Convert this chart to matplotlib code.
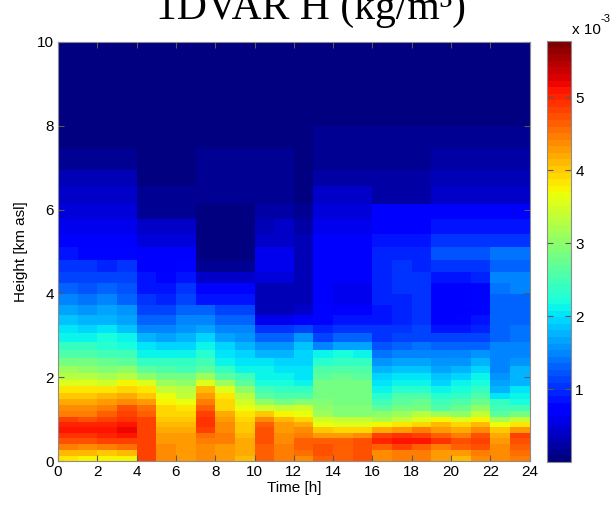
import numpy as np
import matplotlib.pyplot as plt

plt.rcParams['font.family'] = ['Liberation Sans', 'DejaVu Sans']

# cell edges
time_edges = list(range(25))  # hours 0..24, one column per hour
height_edges = [0, 0.13, 0.27, 0.41, 0.54, 0.67, 0.80, 0.93, 1.06, 1.20, 1.34, 1.48,
                1.63, 1.78, 1.93, 2.09, 2.27, 2.45, 2.65, 2.85, 3.05, 3.25, 3.48, 3.72,
                3.98, 4.24, 4.50, 4.80, 5.11, 5.41, 5.77, 6.13, 6.57, 6.95, 7.48, 8.0, 10.0]

# absolute humidity, units of 1e-3 kg/m3, rows bottom -> top, 24 hourly columns
h_low = [
    [3.8, 3.75, 3.7, 3.7, 4.8, 4.4, 4.3, 4.4, 4.25, 4.1, 4.6, 4.45, 4.4, 4.6, 4.6, 4.7, 4.4, 4.45, 4.45, 4.3, 4.1, 4.35, 4.4, 4.5],
    [4.1, 4.1, 4.0, 4.1, 4.8, 4.4, 4.3, 4.4, 4.3, 4.15, 4.6, 4.5, 4.55, 4.7, 4.65, 4.7, 4.4, 4.5, 4.5, 4.3, 4.3, 4.45, 4.4, 4.55],
    [4.45, 4.4, 4.5, 4.55, 4.8, 4.35, 4.3, 4.4, 4.3, 4.15, 4.6, 4.5, 4.6, 4.7, 4.65, 4.7, 4.6, 4.8, 4.6, 4.5, 4.6, 4.7, 4.35, 4.6],
    [4.7, 4.75, 4.8, 4.85, 4.8, 4.3, 4.3, 4.5, 4.45, 4.15, 4.7, 4.35, 4.6, 4.6, 4.6, 4.7, 5.0, 5.05, 5.05, 4.9, 4.75, 4.85, 4.3, 4.75],
    [4.95, 4.95, 5.0, 5.05, 4.8, 4.25, 4.25, 4.55, 4.45, 4.1, 4.7, 4.35, 4.5, 4.3, 4.3, 4.35, 4.8, 4.95, 4.8, 4.6, 4.5, 4.7, 4.15, 4.8],
    [5.05, 5.05, 5.05, 5.15, 4.8, 4.2, 4.2, 4.85, 4.4, 4.05, 4.7, 4.3, 4.35, 4.0, 3.95, 3.95, 4.15, 4.3, 4.5, 4.3, 4.2, 4.35, 4.0, 4.3],
    [5.0, 5.0, 5.0, 5.1, 4.8, 4.1, 4.1, 4.9, 4.4, 4.0, 4.6, 4.25, 4.2, 3.65, 3.6, 3.6, 3.7, 3.8, 3.9, 4.1, 3.95, 4.1, 3.65, 3.8],
    [4.8, 4.75, 4.8, 4.95, 4.8, 4.0, 4.0, 4.95, 4.3, 3.95, 4.4, 4.1, 3.95, 3.45, 3.4, 3.4, 3.2, 3.4, 3.6, 3.75, 3.6, 3.75, 3.2, 3.4],
    [4.5, 4.5, 4.6, 4.8, 4.65, 3.95, 3.95, 4.8, 4.15, 3.8, 4.0, 3.7, 3.65, 3.15, 2.9, 2.9, 3.0, 3.1, 3.25, 3.1, 3.05, 3.35, 2.7, 2.8],
    [4.35, 4.35, 4.5, 4.7, 4.55, 3.9, 3.8, 4.6, 3.95, 3.65, 3.45, 3.4, 3.45, 3.0, 2.9, 2.9, 2.7, 2.85, 2.85, 2.6, 2.75, 3.0, 2.5, 2.5],
    [4.15, 4.15, 4.25, 4.4, 4.3, 3.75, 3.65, 4.5, 3.95, 3.45, 3.0, 2.85, 2.95, 2.9, 2.85, 2.85, 2.5, 2.7, 2.75, 2.5, 2.55, 2.75, 2.35, 2.25],
    [4.0, 4.0, 4.1, 4.2, 4.0, 3.65, 3.4, 4.25, 3.8, 3.3, 2.65, 2.55, 2.6, 2.85, 2.85, 2.85, 2.3, 2.55, 2.6, 2.3, 2.35, 2.55, 2.0, 2.1],
    [3.8, 3.8, 3.85, 3.95, 3.8, 3.35, 3.25, 4.1, 3.6, 3.0, 2.45, 2.35, 2.35, 2.85, 2.85, 2.85, 2.15, 2.3, 2.3, 2.15, 2.2, 2.4, 1.75, 2.0],
    [3.6, 3.55, 3.5, 3.7, 3.6, 3.1, 3.0, 3.6, 3.1, 2.7, 2.25, 2.25, 2.1, 2.85, 2.85, 2.8, 2.0, 2.15, 2.1, 1.95, 2.1, 2.25, 1.65, 1.8],
]
h_mid = [
    [3.3, 3.25, 3.2, 3.25, 3.0, 2.8, 2.85, 3.1, 2.7, 2.5, 2.15, 2.15, 2.05, 2.65, 2.75, 2.7, 1.9, 2.05, 2.05, 1.85, 1.95, 2.15, 1.6, 1.8],
    [3.1, 3.05, 2.95, 3.0, 2.65, 2.55, 2.5, 2.7, 2.35, 2.15, 2.1, 2.05, 2.0, 2.55, 2.6, 2.55, 1.73, 1.85, 1.87, 1.7, 1.75, 1.95, 1.5, 1.75],
    [2.85, 2.8, 2.75, 2.7, 2.4, 2.35, 2.35, 2.5, 2.15, 2.05, 2.0, 1.95, 1.95, 2.3, 2.4, 2.35, 1.59, 1.65, 1.65, 1.55, 1.6, 1.75, 1.5, 1.6],
    [2.6, 2.55, 2.5, 2.45, 2.15, 2.15, 2.1, 2.3, 2.05, 1.9, 1.8, 1.8, 1.9, 2.1, 2.2, 2.15, 1.44, 1.5, 1.5, 1.45, 1.45, 1.55, 1.45, 1.5],
    [2.4, 2.35, 2.3, 2.25, 2.0, 1.95, 1.9, 2.1, 1.9, 1.75, 1.6, 1.6, 1.85, 1.5, 1.7, 1.65, 1.22, 1.35, 1.37, 1.3, 1.3, 1.3, 1.45, 1.45],
    [2.15, 2.1, 2.2, 2.1, 1.8, 1.7, 1.75, 1.9, 1.7, 1.6, 1.35, 1.35, 1.55, 1.1, 1.3, 1.3, 1.0, 1.15, 1.15, 1.15, 1.1, 1.1, 1.35, 1.4],
    [2.0, 1.9, 2.0, 1.85, 1.5, 1.45, 1.6, 1.65, 1.5, 1.45, 1.05, 1.05, 1.1, 0.95, 1.05, 1.05, 1.0, 1.05, 1.15, 0.85, 0.9, 0.95, 1.3, 1.4],
    [1.85, 1.75, 1.8, 1.7, 1.35, 1.3, 1.45, 1.45, 1.35, 1.3, 0.6, 0.6, 0.72, 0.8, 0.85, 0.85, 0.86, 0.95, 1.08, 0.72, 0.75, 0.85, 1.3, 1.35],
    [1.7, 1.6, 1.65, 1.55, 1.15, 1.1, 1.3, 1.3, 1.15, 1.15, 0.35, 0.35, 0.45, 0.75, 0.65, 0.65, 0.86, 0.95, 1.08, 0.72, 0.72, 0.8, 1.3, 1.3],
    [1.45, 1.4, 1.45, 1.35, 1.0, 0.95, 1.15, 0.85, 0.85, 0.85, 0.35, 0.35, 0.33, 0.72, 0.6, 0.6, 0.93, 0.95, 1.08, 0.72, 0.72, 0.8, 1.3, 1.3],
    [1.3, 1.25, 1.3, 1.2, 0.9, 0.9, 1.0, 0.75, 0.75, 0.75, 0.3, 0.3, 0.33, 0.72, 0.6, 0.6, 0.93, 1.0, 1.08, 0.72, 0.72, 0.8, 1.4, 1.45],
    [1.15, 1.15, 1.15, 1.1, 0.85, 0.8, 0.9, 0.43, 0.43, 0.43, 0.5, 0.5, 0.35, 0.72, 0.65, 0.65, 0.93, 1.0, 1.0, 0.86, 0.86, 0.95, 1.45, 1.5],
    [1.0, 1.0, 0.95, 1.0, 0.72, 0.72, 0.8, 0.12, 0.12, 0.15, 0.6, 0.6, 0.35, 0.7, 0.68, 0.68, 0.93, 1.0, 0.93, 1.05, 1.0, 1.05, 1.3, 1.35],
]
h_high = [
    [0.86, 0.8, 0.8, 0.8, 0.65, 0.65, 0.65, 0.07, 0.07, 0.07, 0.55, 0.55, 0.36, 0.68, 0.68, 0.68, 0.93, 0.93, 0.93, 1.2, 1.2, 1.2, 1.4, 1.4],
    [0.72, 0.72, 0.65, 0.65, 0.5, 0.5, 0.5, 0.07, 0.07, 0.07, 0.43, 0.43, 0.29, 0.65, 0.65, 0.65, 0.86, 0.86, 0.86, 1.0, 1.0, 1.0, 1.0, 1.0],
    [0.6, 0.6, 0.6, 0.6, 0.4, 0.4, 0.4, 0.07, 0.07, 0.07, 0.29, 0.4, 0.22, 0.6, 0.6, 0.6, 0.72, 0.72, 0.72, 0.86, 0.86, 0.86, 0.86, 0.86],
    [0.5, 0.5, 0.5, 0.5, 0.17, 0.17, 0.17, 0.07, 0.07, 0.07, 0.26, 0.26, 0.14, 0.5, 0.5, 0.5, 0.65, 0.72, 0.72, 0.65, 0.65, 0.65, 0.65, 0.65],
    [0.4, 0.4, 0.4, 0.4, 0.14, 0.14, 0.14, 0.14, 0.14, 0.14, 0.17, 0.17, 0.07, 0.42, 0.42, 0.42, 0.22, 0.22, 0.22, 0.4, 0.4, 0.4, 0.4, 0.4],
    [0.29, 0.29, 0.29, 0.29, 0.03, 0.03, 0.03, 0.14, 0.14, 0.14, 0.17, 0.17, 0.07, 0.22, 0.22, 0.22, 0.22, 0.22, 0.22, 0.32, 0.32, 0.32, 0.32, 0.32],
    [0.17, 0.17, 0.17, 0.17, 0.03, 0.03, 0.03, 0.14, 0.14, 0.14, 0.17, 0.17, 0.07, 0.12, 0.12, 0.12, 0.12, 0.12, 0.12, 0.22, 0.22, 0.22, 0.22, 0.22],
    [0.07, 0.07, 0.07, 0.07, 0.07, 0.07, 0.07, 0.07, 0.07, 0.07, 0.07, 0.07, 0.07, 0.17, 0.17, 0.17, 0.17, 0.17, 0.17, 0.17, 0.17, 0.17, 0.17, 0.17],
    [0.02, 0.02, 0.02, 0.02, 0.02, 0.02, 0.02, 0.02, 0.02, 0.02, 0.02, 0.02, 0.02, 0.02, 0.02, 0.02, 0.02, 0.02, 0.02, 0.02, 0.02, 0.02, 0.02, 0.02],
]
H = np.array(h_low + h_mid + h_high)

cbar_ticks = [1, 2, 3, 4, 5]

fig = plt.figure(figsize=(6.16, 5.12), dpi=100)
ax = fig.add_axes([0.094, 0.0996, 0.766, 0.8184])
mesh = ax.pcolormesh(time_edges, height_edges, H, cmap=plt.get_cmap('jet', 64),
                     vmin=0, vmax=5.77, shading='flat', antialiased=False)
ax.set_xlim(0, 24)
ax.set_ylim(0, 10)
ax.set_xticks(range(0, 25, 2))
ax.set_yticks(range(0, 11, 2))
ax.tick_params(direction='in', top=True, right=True, length=4, width=0.8,
               color='0.35', labelsize=11, pad=3)
for s in ax.spines.values():
    s.set_color('0.55')
ax.set_xlabel('Time [h]', fontsize=11, labelpad=1)
ax.set_ylabel('Height [km asl]', fontsize=11, labelpad=6)

cax = fig.add_axes([0.888, 0.0977, 0.039, 0.822])
cb = fig.colorbar(mesh, cax=cax, ticks=cbar_ticks)
cax.tick_params(direction='in', left=True, right=True, length=4, width=0.8,
                color='0.35', labelsize=11, pad=3)
cb.outline.set_edgecolor('0.55')
fig.text(0.928, 0.941, 'x 10', fontsize=11, ha='left', va='center')
fig.text(0.975, 0.962, '-3', fontsize=8, ha='left', va='center')

# title sits partly above the figure edge, as in the original
fig.text(0.505, 0.963, '1DVAR H (kg/m\u00b3)', family='Liberation Serif',
         fontsize=30, ha='center', va='baseline')

fig.savefig('out.png', dpi=100)
